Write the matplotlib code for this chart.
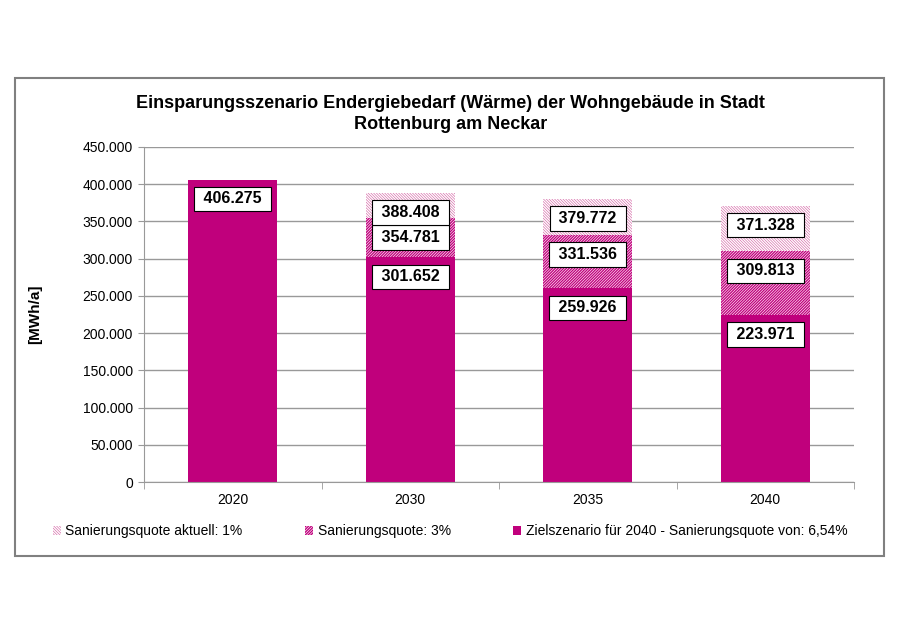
import numpy as np
import matplotlib.pyplot as plt
from matplotlib.patches import Rectangle, Patch
from matplotlib.ticker import FuncFormatter, FixedLocator

plt.rcParams['font.family'] = ['Liberation Sans', 'DejaVu Sans']
plt.rcParams['hatch.linewidth'] = 0.45

years = ['2020', '2030', '2035', '2040']
ziel = [406275, 301652, 259926, 223971]       # Zielszenario 6,54%
quote3 = [0, 354781, 331536, 309813]          # Sanierungsquote 3% (kumuliert)
quote1 = [0, 388408, 379772, 371328]          # Sanierungsquote aktuell 1% (kumuliert)
labels = ['Sanierungsquote aktuell: 1%', 'Sanierungsquote: 3%',
          'Zielszenario für 2040 - Sanierungsquote von: 6,54%']

magenta = '#C0007C'
light = '#D465A5'
h3 = '/' * 12
h1 = '\\' * 12


def de(v):
    return f'{v:,.0f}'.replace(',', '.')


fig = plt.figure(figsize=(9, 6.36), dpi=100)
fig.patches.append(Rectangle((15 / 900, 80 / 636), 869 / 900, 478 / 636,
                             transform=fig.transFigure, fill=False,
                             edgecolor='#808080', lw=1.5))
ax = fig.add_axes([144 / 900, 154 / 636, 710 / 900, 335 / 636])

x = np.arange(len(years))
ziel = np.array(ziel)
q3 = np.array(quote3)
q1 = np.array(quote1)
mid = np.where(q3 > 0, q3 - ziel, 0)
top = np.where(q1 > 0, q1 - q3, 0)

w = 0.5
ax.bar(x, ziel, w, color=magenta, lw=0, zorder=2)
ax.bar(x, mid, w, bottom=ziel, facecolor=magenta, edgecolor='white',
       hatch=h3, lw=0, zorder=2)
ax.bar(x, top, w, bottom=q3, facecolor='white', edgecolor=light,
       hatch=h1, lw=0, zorder=2)

box = dict(boxstyle='square,pad=0.3', fc='white', ec='black', lw=0.8)
for i in range(len(years)):
    vals = [ziel[i]] + ([q3[i], q1[i]] if q3[i] > 0 else [])
    for v in vals:
        ax.annotate(' ' + de(v) + ' ', (x[i], v), xytext=(0, -14), textcoords='offset points',
                    ha='center', va='center', fontsize=11.5, fontweight='bold',
                    bbox=box, zorder=5)

ax.set_xlim(-0.5, 3.5)
ax.set_ylim(0, 450000)
ax.set_yticks(np.arange(0, 450001, 50000))
ax.yaxis.set_major_formatter(FuncFormatter(lambda v, p: de(v)))
ax.yaxis.grid(True, color='#999999', lw=1, zorder=0)
ax.set_xticks(x)
ax.set_xticklabels(years)
ax.xaxis.set_minor_locator(FixedLocator([-0.5, 0.5, 1.5, 2.5, 3.5]))
ax.tick_params(axis='x', which='major', length=0, pad=8, labelsize=10)
ax.tick_params(axis='x', which='minor', length=5, color='#999999')
ax.tick_params(axis='y', length=4, color='#999999', labelsize=10, pad=4)
for s in ['top', 'right']:
    ax.spines[s].set_visible(False)
for s in ['left', 'bottom']:
    ax.spines[s].set_color('#999999')
ax.set_axisbelow(True)

ax.set_ylabel('[MWh/a]', fontweight='bold', fontsize=11, labelpad=29)
fig.text(0.501, 0.821, 'Einsparungsszenario Endergiebedarf (Wärme) der Wohngebäude in Stadt\nRottenburg am Neckar',
         ha='center', va='center', fontsize=13, fontweight='bold', linespacing=1.3)

handles = [Patch(facecolor='white', edgecolor=light, hatch=h1, lw=0),
           Patch(facecolor=magenta, edgecolor='white', hatch=h3, lw=0),
           Patch(facecolor=magenta, lw=0)]
fig.legend(handles, labels, loc='center', bbox_to_anchor=(0.5, 0.165), ncol=3,
           frameon=False, fontsize=10, handlelength=0.6, handleheight=0.6,
           handletextpad=0.3, columnspacing=4.5)

fig.savefig('out.png', dpi=100)
